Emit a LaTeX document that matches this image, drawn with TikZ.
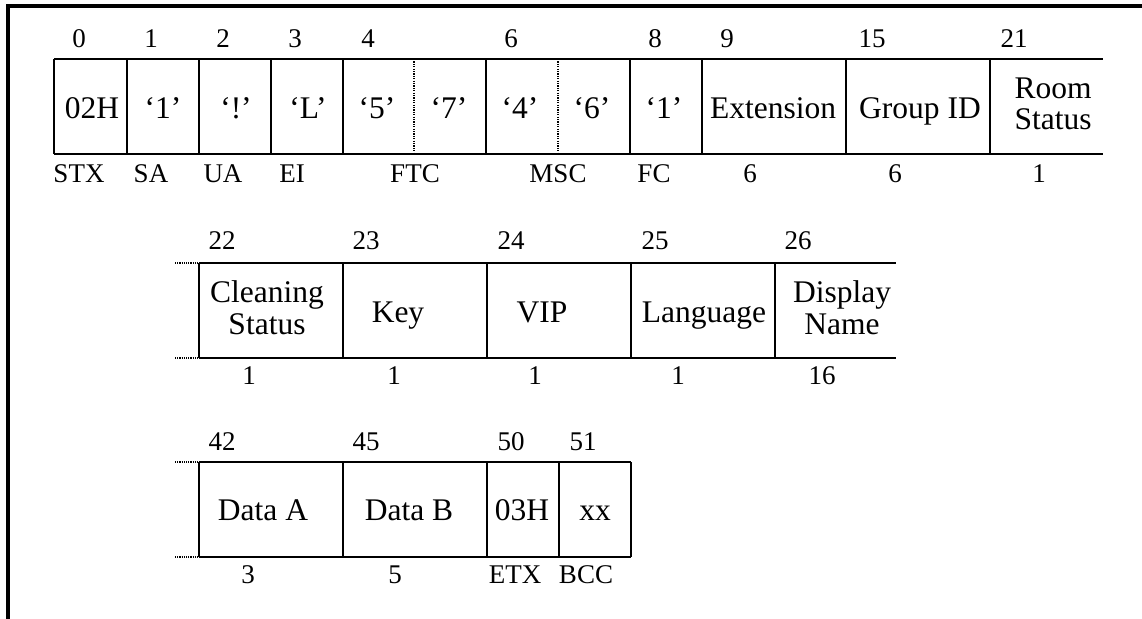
\documentclass[tikz,border=0pt]{standalone}
\usepackage{fontspec}
\setmainfont{Liberation Serif}
\begin{document}
\begin{tikzpicture}[x=1pt,y=-1pt,
  frame/.style={line width=3.5pt},
  cellline/.style={line width=2.2pt},
  thindot/.style={line width=1.1pt,dash pattern=on 1.2pt off 1.2pt},
  stub/.style={line width=2pt,dash pattern=on 1.2pt off 1pt},
  big/.style={font=\fontsize{31.5}{31.5}\selectfont,inner sep=0pt,anchor=base},
  small/.style={font=\fontsize{27}{27}\selectfont,inner sep=0pt,anchor=base}]
\useasboundingbox (0,0) rectangle (1142,618);
% frame
\draw[frame] (8,620) -- (8,6) -- (1144,6);

% ---------- row 1 ----------
\draw[cellline] (54,59) -- (1103,59);
\draw[cellline] (54,154) -- (1103,154);
\foreach \x in {54,127,199,271,343,486,630,702,846,990}
  \draw[cellline] (\x,59) -- (\x,154);
\foreach \x in {414,558}
  \draw[thindot] (\x,59) -- (\x,154);

\foreach \t/\x/\n in {0/79/o0,1/151/o1,2/223/o2,3/295/o3,4/368/o4,6/511/o6,8/655/o8,9/727/o9,15/872/o15,21/1014/o21}
  \node[small] (\n) at (\x,48) {\t};

\node[big] (v02h) at (92,118) {02H};
\node[big] (v1a) at (163,118) {‘1’};
\node[big] (vex) at (236,118) {‘!’};
\node[big] (vL) at (308,118) {‘L’};
\node[big] (v5) at (377,118) {‘5’};
\node[big] (v7) at (449,118) {‘7’};
\node[big] (v4) at (520,118) {‘4’};
\node[big] (v6) at (592,118) {‘6’};
\node[big] (v1b) at (664,118) {‘1’};
\node[big] (vext) at (773,118) {Extension};
\node[big] (vgid) at (920,118) {Group ID};
\node[big] (vroom) at (1053,98) {Room};
\node[big] (vrstat) at (1053,129) {Status};

\node[small] (lstx) at (79,182) {STX};
\node[small] (lsa) at (151,182) {SA};
\node[small] (lua) at (223,182) {UA};
\node[small] (lei) at (292,182) {EI};
\node[small] (lftc) at (415,182) {FTC};
\node[small] (lmsc) at (558,182) {MSC};
\node[small] (lfc) at (654,182) {FC};
\node[small] (lext) at (750,182) {6};
\node[small] (lgid) at (895,182) {6};
\node[small] (lrs) at (1039,182) {1};

% ---------- row 2 ----------
\draw[stub] (175,263) -- (199,263);
\draw[stub] (175,358) -- (199,358);
\draw[cellline] (199,263) -- (896,263);
\draw[cellline] (199,358) -- (896,358);
\foreach \x in {199,343,487,631,775}
  \draw[cellline] (\x,263) -- (\x,358);

\foreach \t/\x in {22/222,23/366,24/511,25/655,26/798}
  \node[small] (o\t) at (\x,249) {\t};

\node[big] (vclean) at (267,302) {Cleaning};
\node[big] (vcstat) at (267,334) {Status};
\node[big] (vkey) at (398,322) {Key};
\node[big] (vvip) at (542,322) {VIP};
\node[big] (vlang) at (704,322) {Language};
\node[big] (vdisp) at (842,302) {Display};
\node[big] (vname) at (842,334) {Name};

\node[small] (lcs) at (249,384) {1};
\node[small] (lkey) at (394,384) {1};
\node[small] (lvip) at (535,384) {1};
\node[small] (llang) at (678,384) {1};
\node[small] (ldn) at (822,384) {16};

% ---------- row 3 ----------
\draw[stub] (175,462) -- (199,462);
\draw[stub] (175,557) -- (199,557);
\draw[cellline] (199,462) -- (631,462);
\draw[cellline] (199,557) -- (631,557);
\foreach \x in {199,343,487,559,631}
  \draw[cellline] (\x,462) -- (\x,557);

\foreach \t/\x in {42/222,45/366,50/511,51/583}
  \node[small] (o\t) at (\x,450) {\t};

\node[big] (vda) at (263,520) {Data A};
\node[big] (vdb) at (409,520) {Data B};
\node[big] (v03h) at (522,520) {03H};
\node[big] (vxx) at (595,520) {xx};

\node[small] (lda) at (248,583) {3};
\node[small] (ldb) at (395,583) {5};
\node[small] (letx) at (515,583) {ETX};
\node[small] (lbcc) at (586,583) {BCC};
\end{tikzpicture}
\end{document}
